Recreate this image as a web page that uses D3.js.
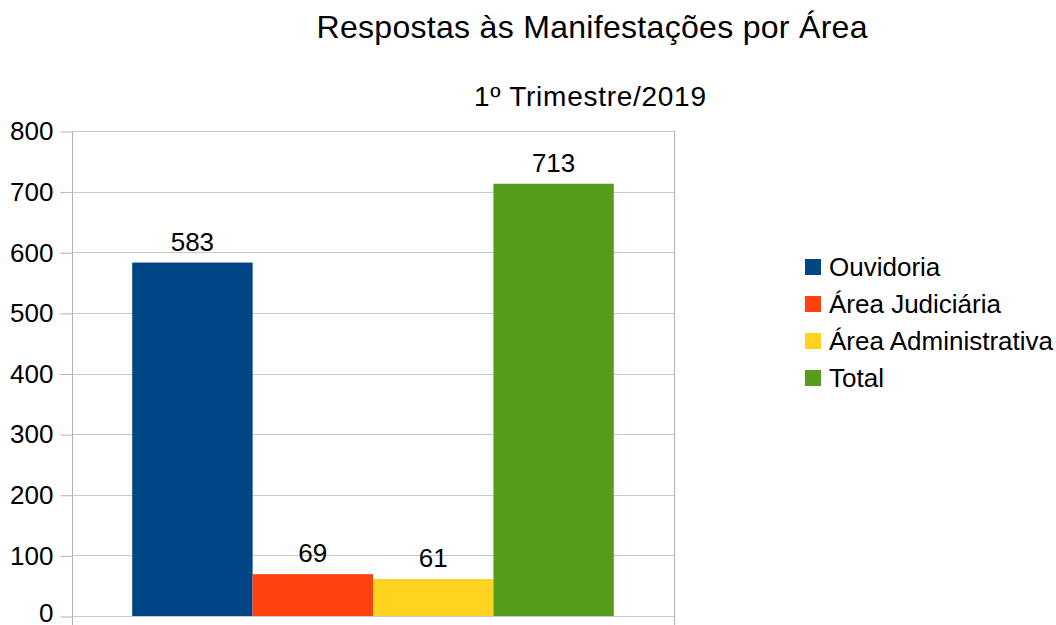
<!DOCTYPE html>
<html>
<head>
<meta charset="utf-8">
<script src="https://cdn.jsdelivr.net/npm/d3@7/dist/d3.min.js"></script>
<style>
	body { margin: 0; background: #fff; }
	svg text { font-family: "Liberation Sans", Arial, sans-serif; fill: #000; }
</style>
</head>
<body>
<div id="chart"></div>
<script>
// data
var series = ["Ouvidoria", "Área Judiciária", "Área Administrativa", "Total"];
var values = [583, 69, 61, 713];
var colors = ["#004586", "#ff420e", "#ffd320", "#579d1c"];
var yTicks = [0, 100, 200, 300, 400, 500, 600, 700, 800];

(function() {
	var width = 1056,
		height = 625;

	var plot = { left: 72, right: 674, top: 131, bottom: 616 };

	var svg = d3.select("#chart").append("svg")
		.attr("width", width)
		.attr("height", height);

	// titles
	svg.append("text")
		.attr("x", 592).attr("y", 38)
		.attr("text-anchor", "middle")
		.style("font-size", "32px")
		.attr("textLength", 551)
		.text("Respostas às Manifestações por Área");
	svg.append("text")
		.attr("x", 590).attr("y", 106)
		.attr("text-anchor", "middle")
		.style("font-size", "28px")
		.attr("textLength", 232)
		.text("1º Trimestre/2019");

	var y = d3.scaleLinear().domain([0, 800]).range([plot.bottom, plot.top]);
	// one category, bars take 80% of it
	var x = d3.scaleBand().domain(series)
		.range([plot.left + (plot.right - plot.left) * 0.1, plot.right - (plot.right - plot.left) * 0.1])
		.padding(0);

	// grid
	svg.append("g").selectAll("line")
		.data(yTicks)
		.enter().append("line")
		.attr("x1", plot.left).attr("x2", plot.right)
		.attr("y1", function(d) { return Math.round(y(d)) + 0.5; })
		.attr("y2", function(d) { return Math.round(y(d)) + 0.5; })
		.style("stroke", "#c8c8c8");

	// y axis
	var yAxis = d3.axisLeft(y).tickValues(yTicks).tickSize(12).tickPadding(7);
	var gy = svg.append("g")
		.attr("transform", "translate(" + (plot.left + 0.5) + ",0.5)")
		.call(yAxis);
	gy.select(".domain").remove();
	gy.selectAll(".tick line").style("stroke", "#b3b3b3");
	gy.selectAll(".tick text")
		.style("font-size", "26px")
		.style("font-family", "Liberation Sans, Arial, sans-serif")
		.attr("fill", "#000");
	gy.selectAll(".tick").filter(function(d) { return d === 0; }).select("text").attr("dy", "0.2em");

	// vertical borders
	[plot.left, plot.right].forEach(function(px) {
		svg.append("line")
			.attr("x1", px + 0.5).attr("x2", px + 0.5)
			.attr("y1", plot.top).attr("y2", height)
			.style("stroke", "#b3b3b3");
	});

	// bars
	svg.append("g").selectAll("rect")
		.data(values)
		.enter().append("rect")
		.attr("x", function(d, i) { return x(series[i]); })
		.attr("width", x.bandwidth())
		.attr("y", function(d) { return y(d); })
		.attr("height", function(d) { return y(0) - y(d); })
		.style("fill", function(d, i) { return colors[i]; });

	// value labels
	svg.append("g").selectAll("text")
		.data(values)
		.enter().append("text")
		.attr("x", function(d, i) { return x(series[i]) + x.bandwidth() / 2; })
		.attr("y", function(d) { return y(d) - 12; })
		.attr("text-anchor", "middle")
		.style("font-size", "26px")
		.text(function(d) { return d; });

	// legend
	var legend = svg.append("g").selectAll("g")
		.data(series)
		.enter().append("g")
		.attr("transform", function(d, i) { return "translate(805," + (259 + i * 37) + ")"; });
	legend.append("rect")
		.attr("width", 16).attr("height", 16)
		.style("fill", function(d, i) { return colors[i]; });
	legend.append("text")
		.attr("x", 24).attr("y", 17)
		.style("font-size", "26px")
		.text(function(d) { return d; });
})();
</script>
</body>
</html>
